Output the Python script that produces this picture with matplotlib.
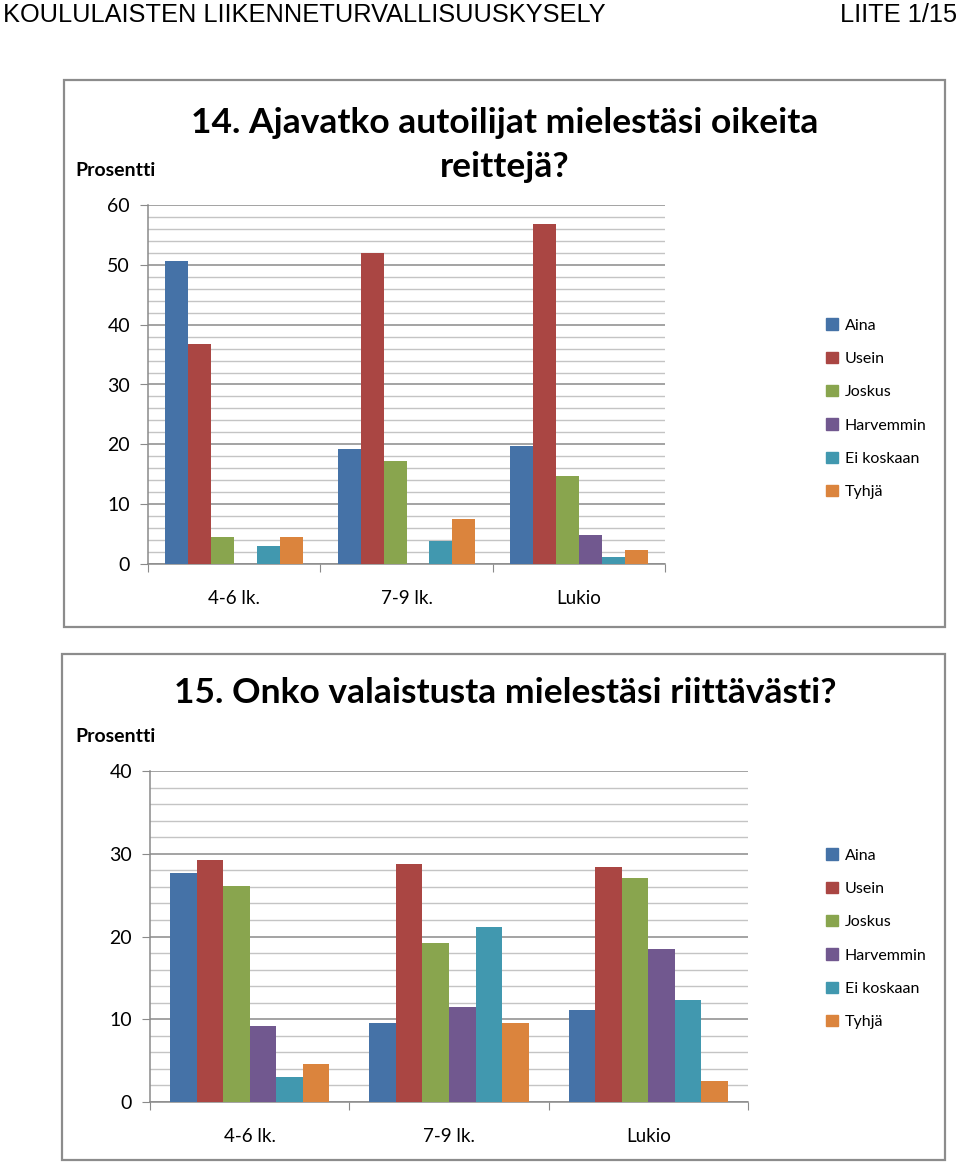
import matplotlib
matplotlib.use("Agg")
import matplotlib.pyplot as plt
from matplotlib.patches import Rectangle
from matplotlib.ticker import MultipleLocator
import numpy as np

categories = ["4-6 lk.", "7-9 lk.", "Lukio"]
series_names = ["Aina", "Usein", "Joskus", "Harvemmin", "Ei koskaan", "Tyhjä"]
colors = ["#4572A7", "#AA4643", "#89A54E", "#71588F", "#4198AF", "#DB843D"]

# Chart 14 values (percent), per series across categories
q14_aina = [50.7, 19.2, 19.8]
q14_usein = [36.8, 51.9, 56.8]
q14_joskus = [4.5, 17.2, 14.7]
q14_harvemmin = [0.0, 0.0, 4.9]
q14_ei_koskaan = [3.0, 3.8, 1.2]
q14_tyhja = [4.5, 7.6, 2.3]

# Chart 15 values (percent)
q15_aina = [27.7, 9.6, 11.1]
q15_usein = [29.2, 28.8, 28.4]
q15_joskus = [26.1, 19.2, 27.1]
q15_harvemmin = [9.2, 11.5, 18.5]
q15_ei_koskaan = [3.0, 21.1, 12.3]
q15_tyhja = [4.6, 9.6, 2.5]

title14 = "14. Ajavatko autoilijat mielestäsi oikeita\nreittejä?"
title15 = "15. Onko valaistusta mielestäsi riittävästi?"

W, H = 960, 1163
fig = plt.figure(figsize=(W / 100, H / 100), dpi=100)

FONT = ["Lato", "DejaVu Sans"]


def fx(x):
    return x / W


def fy(y):
    return 1 - y / H


def draw_chart(box, axbox, series, ymax, title, title_y, prosentti_y, legend_y0):
    # border box
    x0, y0, x1, y1 = box
    fig.patches.append(Rectangle((fx(x0), fy(y1)), fx(x1 - x0), (y1 - y0) / H,
                                 transform=fig.transFigure, fill=False,
                                 edgecolor="#8c8c8c", linewidth=1.6))
    l, t, r, b = axbox
    ax = fig.add_axes([fx(l), fy(b), fx(r - l), (b - t) / H])
    n = len(series)
    bw = 1.0 / 7.5
    x = np.arange(len(categories))
    for i, vals in enumerate(series):
        offs = (i - (n - 1) / 2) * bw
        ax.bar(x + offs, vals, width=bw, color=colors[i], label=series_names[i],
               zorder=3, linewidth=0)
    ax.set_xlim(-0.5, len(categories) - 0.5)
    ax.set_ylim(0, ymax)
    ax.yaxis.set_major_locator(MultipleLocator(10))
    ax.yaxis.set_minor_locator(MultipleLocator(2))
    ax.grid(axis="y", which="major", color="#8a8a8a", linewidth=1.1, zorder=0)
    ax.grid(axis="y", which="minor", color="#c4c4c4", linewidth=1.0, zorder=0)
    ax.set_axisbelow(True)
    for s in ["top", "right"]:
        ax.spines[s].set_visible(False)
    for s in ["left", "bottom"]:
        ax.spines[s].set_color("#8a8a8a")
        ax.spines[s].set_linewidth(1.1)
    ax.tick_params(axis="y", which="major", length=6, color="#8a8a8a", labelsize=14,
                   pad=7)
    ax.tick_params(axis="y", which="minor", length=0)
    # x ticks at category boundaries
    ax.set_xticks(np.arange(-0.5, len(categories), 1.0))
    ax.set_xticklabels([])
    ax.set_xticks(x, minor=True)
    ax.set_xticklabels(categories, minor=True, fontsize=13.5, family=FONT)
    ax.tick_params(axis="x", which="major", length=6, color="#8a8a8a")
    ax.tick_params(axis="x", which="minor", length=0, pad=19)
    for lab in ax.get_yticklabels():
        lab.set_family(FONT)
    fig.text(fx(505), fy(title_y), title, ha="center", va="center", fontsize=25.5,
             fontweight="bold", family=FONT, linespacing=1.45, color="black")
    fig.text(fx(75), fy(prosentti_y), "Prosentti", ha="left", va="center",
             fontsize=14, fontweight="bold", family=FONT)
    # legend
    handles = [Rectangle((0, 0), 1, 1, color=c) for c in colors]
    fig.legend(handles, series_names, loc="upper left",
               bbox_to_anchor=(fx(820), fy(legend_y0)), frameon=False,
               prop={"family": FONT, "size": 11.5}, handlelength=0.7,
               handleheight=0.7, handletextpad=0.45, labelspacing=1.2,
               borderaxespad=0)
    return ax


draw_chart((64, 80, 945, 627), (148, 205, 665, 564),
           [q14_aina, q14_usein, q14_joskus, q14_harvemmin, q14_ei_koskaan, q14_tyhja],
           60, title14, 145, 171, 312)
draw_chart((62, 654, 945, 1160), (150, 771, 748, 1102),
           [q15_aina, q15_usein, q15_joskus, q15_harvemmin, q15_ei_koskaan, q15_tyhja],
           40, title15, 693, 737, 842)

HEADER_FONT = ["Liberation Sans Narrow", "Liberation Sans", "DejaVu Sans"]
fig.text(fx(3), fy(22), "KOULULAISTEN LIIKENNETURVALLISUUSKYSELY", ha="left",
         va="baseline", fontsize=18.3, family=HEADER_FONT)
fig.text(fx(957), fy(22), "LIITE 1/15", ha="right", va="baseline", fontsize=18.3,
         family=HEADER_FONT)

fig.savefig("out.png", dpi=100, facecolor="white")
